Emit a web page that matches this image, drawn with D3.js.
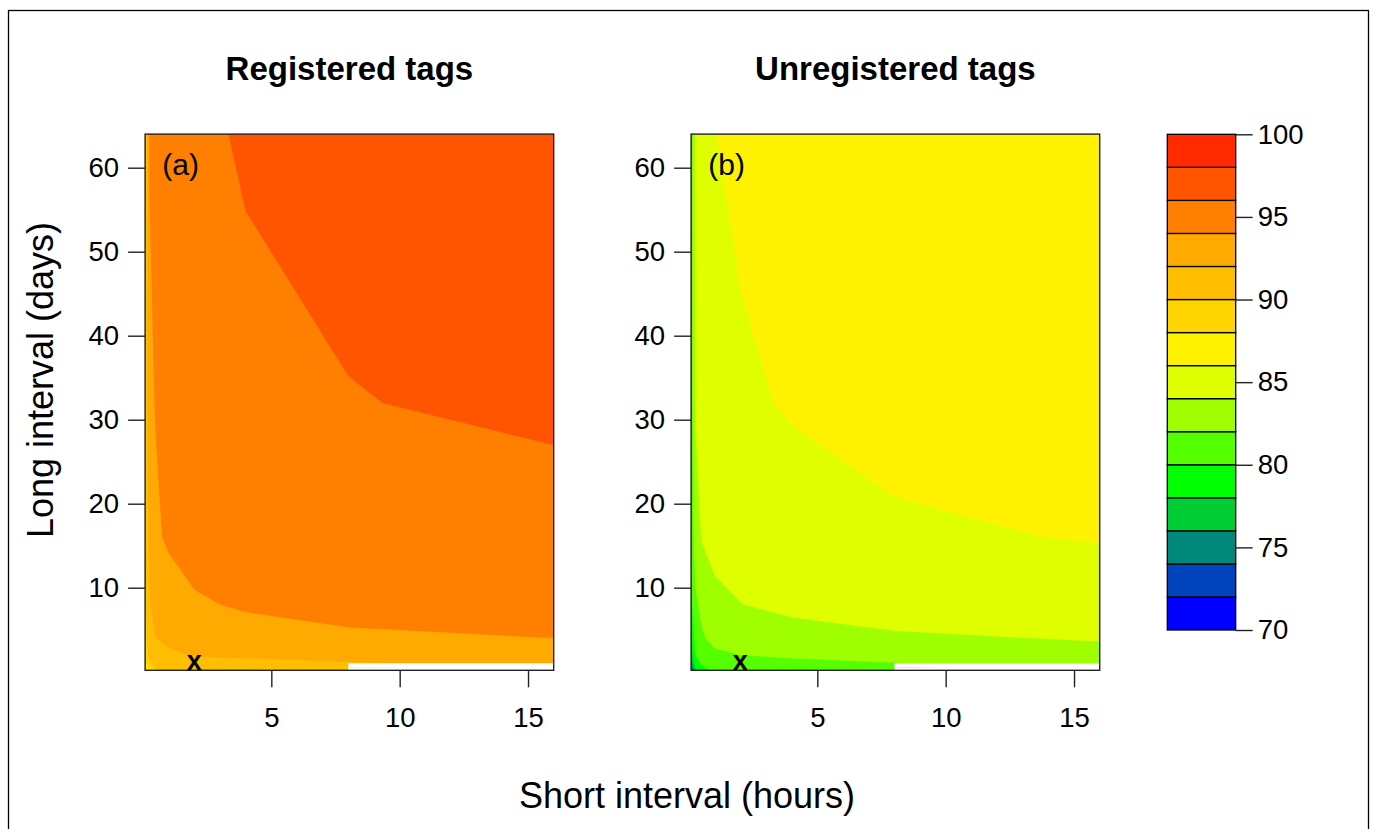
<!DOCTYPE html>
<html><head><meta charset="utf-8">
<script src="https://cdn.jsdelivr.net/npm/d3@7"></script>
<style>
body{margin:0;background:#fff}
svg{display:block}
text{font-family:"Liberation Sans",Arial,Helvetica,sans-serif;fill:#000}
</style>
</head><body>
<svg id="chart" width="1376" height="829"></svg>
<script>
// ---------------- data ----------------
const shortHours = [1/12, 0.25, 0.5, 1, 2, 4, 8, 16];          // x grid (hours)
const longDays   = [1/6, 0.5, 1, 2, 4, 8, 16, 32, 64];          // y grid (days)
// rows = long interval (ascending), columns = short interval (ascending)
const registered = [
  [85.0, 88.0, 89.5, 90.3, 90.6, 90.8, 91.0, NaN ],
  [86.5, 89.0, 90.3, 90.8, 91.0, 91.2, 91.4, NaN ],
  [87.5, 89.8, 90.8, 91.1, 91.24,91.5, 91.8, 92.6],
  [88.5, 90.5, 91.3, 91.5, 92.2, 92.3, 93.0, 93.2],
  [89.0, 91.3, 92.0, 92.6, 93.0, 93.3, 93.76,94.0],
  [89.3, 91.8, 92.8, 93.0, 93.8, 94.2, 94.5, 94.6],
  [89.5, 92.5, 93.7, 94.3, 94.7, 94.9, 95.0, 94.9],
  [89.5, 93.6, 94.1, 94.9, 95.1, 95.5, 95.9, 96.5],
  [89.5, 94.1, 94.8, 95.2, 95.6, 96.2, 96.9, 97.3]
];
const unregistered = [
  [71.0, 77.0, 79.3, 80.3, 80.8, 81.0, 81.2, NaN ],
  [73.5, 78.5, 79.8, 80.6, 81.0, 81.1, 81.4, NaN ],
  [75.0, 79.2, 80.3, 81.0, 81.1, 81.25,81.9, 83.2],
  [76.5, 80.0, 81.0, 81.47,82.0, 82.5, 83.0, 83.6],
  [78.0, 80.8, 81.7, 82.8, 83.0, 83.35,83.8, 84.1],
  [79.5, 81.6, 82.6, 83.5, 83.97,84.4, 84.7, 84.8],
  [80.3, 83.0, 84.1, 84.64,84.8, 84.86,85.74,86.1],
  [80.6, 84.2, 84.8, 85.3, 85.6, 86.22,86.6, 87.0],
  [80.8, 84.6, 85.6, 85.95,86.55,86.9, 87.2, 87.5]
];
const levels = [70,72,74,76,78,80,82,84,86,88,90,92,94,96,98,100];
const bandColors = ["#0000FF","#0044BB","#00897A","#00CC33","#00FF00","#55FF00","#9FFF00",
                    "#DFFF00","#FFF200","#FFD500","#FFBF00","#FFAA00","#FF8000","#FF5500","#FF2A00"];
const xTicks = [5, 10, 15];
const yTicks = [10, 20, 30, 40, 50, 60];
const legendTicks = [70, 75, 80, 85, 90, 95, 100];
const panelTitles = ["Registered tags", "Unregistered tags"];
const panelLabels = ["(a)", "(b)"];
const markerShort = [2];
const markerLong = [1];

// ---------------- layout ----------------
const svg = d3.select("#chart");
const plotLefts = [145.1, 691.1];
const plotW = 408.6;
const plotTop = 134.1, plotBottom = 670.3;
const FONT_TICK = 27.5, FONT_TITLE = 33, FONT_AXIS = 36;

svg.append("rect").attr("x", 8.5).attr("y", 10.5).attr("width", 1360).attr("height", 840)
  .attr("fill", "none").attr("stroke", "#000").attr("stroke-width", 1.3);

const y = d3.scaleLinear().domain([longDays[0], longDays[longDays.length-1]]).range([plotBottom, plotTop]);

function gridInterp(arr, c) {
  const t = c - 0.5;
  if (t <= 0) return arr[0];
  if (t >= arr.length - 1) return arr[arr.length - 1];
  const i = Math.floor(t), f = t - i;
  return arr[i] + f * (arr[i + 1] - arr[i]);
}

const nX = shortHours.length, nY = longDays.length;

[registered, unregistered].forEach((grid, p) => {
  const left = plotLefts[p];
  const x = d3.scaleLinear().domain([shortHours[0], shortHours[nX-1]]).range([left, left + plotW]);
  const g = svg.append("g");
  const clipId = "clip" + p;
  svg.append("clipPath").attr("id", clipId).append("rect")
    .attr("x", left).attr("y", plotTop).attr("width", plotW).attr("height", plotBottom - plotTop);
  const area = g.append("g").attr("clip-path", `url(#${clipId})`);

  const values = [];
  for (let j = 0; j < nY; j++) for (let i = 0; i < nX; i++) values.push(grid[j][i]);
  const contours = d3.contours().size([nX, nY]).thresholds(levels.slice(0, -1))(values);
  const proj = d3.geoTransform({
    point: function(cx, cy) { this.stream.point(x(gridInterp(shortHours, cx)), y(gridInterp(longDays, cy))); }
  });
  const path = d3.geoPath(proj);
  area.selectAll("path.band").data(contours).join("path")
    .attr("class", "band")
    .attr("d", path)
    .attr("fill", (d, k) => bandColors[k])
    .attr("stroke", (d, k) => bandColors[k])
    .attr("stroke-width", 0.3);

  // cells with missing values stay blank
  const naCells = [];
  for (let j = 0; j < nY - 1; j++) for (let i = 0; i < nX - 1; i++) {
    if ([grid[j][i], grid[j][i+1], grid[j+1][i], grid[j+1][i+1]].some(v => isNaN(v))) naCells.push([i, j]);
  }
  area.selectAll("rect.na").data(naCells).join("rect").attr("class", "na")
    .attr("x", d => x(shortHours[d[0]])).attr("width", d => x(shortHours[d[0]+1]) - x(shortHours[d[0]]))
    .attr("y", d => y(longDays[d[1]+1])).attr("height", d => y(longDays[d[1]]) - y(longDays[d[1]+1]))
    .attr("fill", "#fff");

  // box
  g.append("rect").attr("x", left).attr("y", plotTop).attr("width", plotW).attr("height", plotBottom - plotTop)
    .attr("fill", "none").attr("stroke", "#222").attr("stroke-width", 1.4);

  // axes
  const ax = g.append("g").attr("transform", `translate(0,${plotBottom})`)
    .call(d3.axisBottom(x).tickValues(xTicks).tickSize(17).tickPadding(20).tickFormat(d3.format("d")));
  const ay = g.append("g").attr("transform", `translate(${left},0)`)
    .call(d3.axisLeft(y).tickValues(yTicks).tickSize(17).tickPadding(9).tickFormat(d3.format("d")));
  [ax, ay].forEach(a => {
    a.select(".domain").remove();
    a.selectAll("line").attr("stroke", "#222").attr("stroke-width", 1.4);
    a.selectAll("text").attr("font-size", FONT_TICK).attr("font-family", '"Liberation Sans",Arial,sans-serif').attr("fill", "#000");
  });

  // title
  g.append("text").attr("x", left + plotW / 2).attr("y", 80).attr("text-anchor", "middle")
    .attr("font-size", FONT_TITLE).attr("font-weight", "bold").text(panelTitles[p]);
  // panel label
  g.append("text").attr("x", x(0.75)).attr("y", 175).attr("font-size", 30).text(panelLabels[p]);
  // marker
  g.selectAll("text.mk").data(markerShort.map((s, k) => [s, markerLong[k]])).join("text").attr("class", "mk")
    .attr("x", d => x(d[0])).attr("y", d => y(d[1]) + 7).attr("text-anchor", "middle")
    .attr("font-size", 27).attr("font-weight", "bold").text("x");
});

// axis titles
svg.append("text").attr("x", 687).attr("y", 808).attr("text-anchor", "middle")
  .attr("font-size", FONT_AXIS).text("Short interval (hours)");
svg.append("text").attr("transform", "translate(53,380) rotate(-90)").attr("text-anchor", "middle")
  .attr("font-size", FONT_AXIS).text("Long interval (days)");

// legend
const lg = svg.append("g");
const legX = 1167.3, legW = 68.4;
const yL = d3.scaleLinear().domain([70, 100]).range([630, 134.3]);
lg.selectAll("rect").data(bandColors).join("rect")
  .attr("x", legX).attr("width", legW)
  .attr("y", (c, k) => yL(levels[k + 1])).attr("height", (c, k) => yL(levels[k]) - yL(levels[k + 1]))
  .attr("fill", c => c).attr("stroke", "#000").attr("stroke-width", 1.3);
const al = lg.append("g").attr("transform", `translate(${legX + legW},0)`)
  .call(d3.axisRight(yL).tickValues(legendTicks).tickSize(17).tickPadding(5).tickFormat(d3.format("d")));
al.select(".domain").remove();
al.selectAll("line").attr("stroke", "#222").attr("stroke-width", 1.4);
al.selectAll("text").attr("font-size", FONT_TICK).attr("font-family", '"Liberation Sans",Arial,sans-serif').attr("fill", "#000");
</script>
</body></html>
